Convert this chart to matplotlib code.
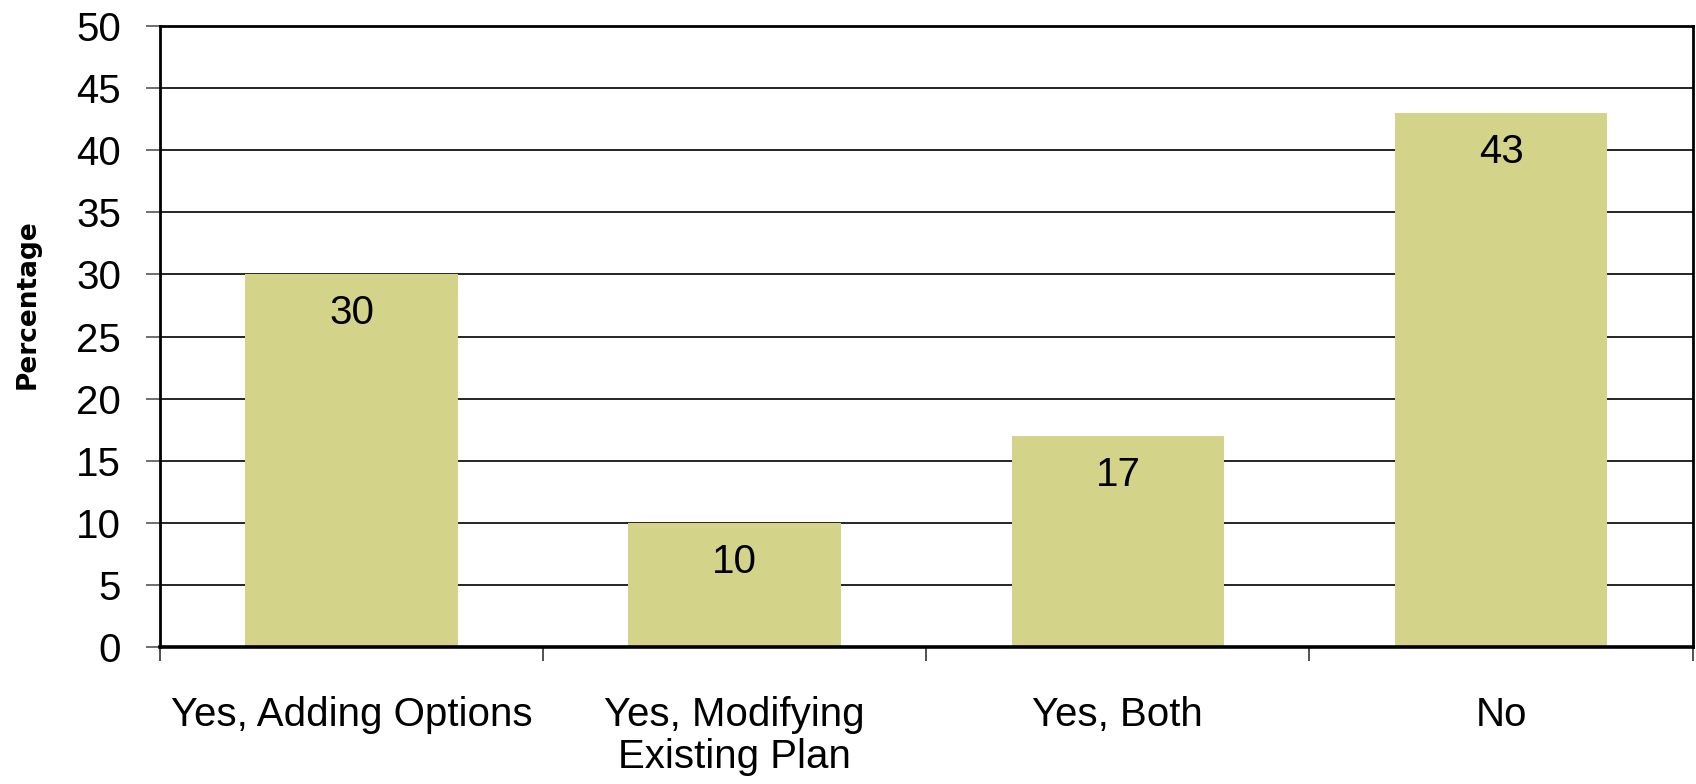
import numpy as np
from matplotlib import pyplot as plt

# survey responses, percent of respondents
categories = ["Yes, Adding Options", "Yes, Modifying\nExisting Plan", "Yes, Both", "No"]
values = [30, 10, 17, 43]
y_ticks = list(range(0, 55, 5))

bar_color = "#d4d38a"
font = "Liberation Sans"

fig = plt.figure(figsize=(16.96, 7.84), dpi=100)
ax = fig.add_axes([0.0943, 0.1747, 0.9037, 0.7921])

x = np.arange(len(categories))
bars = ax.bar(x, values, width=0.555, color=bar_color, zorder=2)

for b, v in zip(bars, values):
    ax.annotate(str(v), (b.get_x() + b.get_width() / 2, v), xytext=(0, -28),
                textcoords="offset points", ha="center", va="center",
                fontsize=29, family=font, zorder=3)

ax.set_xlim(-0.5, len(categories) - 0.5)
ax.set_ylim(0, 50)
ax.set_yticks(y_ticks)
ax.set_yticklabels([str(t) for t in y_ticks], family=font, fontsize=29)
ax.yaxis.grid(True, color="black", linewidth=1.2, zorder=1)

# category labels sit between the boundary ticks
ax.set_xticks(np.arange(-0.5, len(categories), 1.0))
ax.set_xticklabels([])
ax.set_xticks(x, minor=True)
ax.set_xticklabels(categories, minor=True, family=font, fontsize=29, linespacing=1.15)
ax.tick_params(axis="x", which="minor", length=0, pad=35)
ax.tick_params(axis="x", which="major", length=10, width=1.2, color="#333333")
ax.tick_params(axis="y", length=10, width=1.2, color="#555555", pad=18)

for side in ["left", "right", "top", "bottom"]:
    ax.spines[side].set_linewidth(2)
    ax.spines[side].set_color("black")
ax.spines["bottom"].set_linewidth(2.6)

fig.text(0.016, 0.612, "Percentage", rotation=90, ha="center", va="center",
         fontsize=19, fontweight="bold", family="DejaVu Sans")

fig.savefig("out.png", dpi=100)
